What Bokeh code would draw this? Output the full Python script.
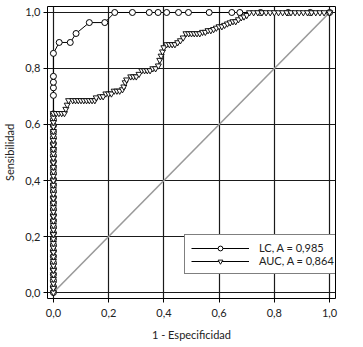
from bokeh.plotting import figure
from bokeh.models import Range1d, FixedTicker, Legend, LegendItem
from bokeh.embed import file_html
from bokeh.resources import INLINE

tick_values = [0.0, 0.2, 0.4, 0.6, 0.8, 1.0]
tick_labels = ["0,0", "0,2", "0,4", "0,6", "0,8", "1,0"]
x_title = "1 - Especificidad"
y_title = "Sensibilidad"
series_labels = ["LC, A = 0,985", "AUC, A = 0,864"]

lc_x = [0.0] * 31 + [0.0, 0.0, 0.0, 0.0, 0.0,
        0.021, 0.061, 0.082, 0.130, 0.186, 0.222, 0.286, 0.347, 0.379,
        0.410, 0.453, 0.489, 0.564, 0.646, 0.675, 0.750, 0.850, 0.930, 1.0]
lc_y = [0.000, 0.021, 0.043, 0.064, 0.085, 0.106, 0.128, 0.149, 0.170, 0.191,
        0.213, 0.234, 0.255, 0.277, 0.298, 0.319, 0.340, 0.362, 0.383, 0.404,
        0.426, 0.447, 0.468, 0.489, 0.511, 0.532, 0.553, 0.574, 0.596, 0.617,
        0.638, 0.704, 0.731, 0.751, 0.772, 0.854,
        0.893, 0.893, 0.925, 0.964, 0.964, 1.0, 1.0, 1.0, 1.0,
        1.0, 1.0, 1.0, 1.0, 1.0, 1.0, 1.0, 1.0, 1.0, 1.0]

auc_x = [0.0] * 41 + [
    0.010, 0.020, 0.030, 0.040, 0.045, 0.050, 0.055,
    0.070, 0.080, 0.090, 0.100, 0.110, 0.120, 0.130, 0.140, 0.150,
    0.155, 0.170, 0.180, 0.190, 0.200, 0.210, 0.220, 0.230, 0.240, 0.250,
    0.255, 0.260, 0.265, 0.280, 0.290, 0.300, 0.310, 0.320, 0.330, 0.340,
    0.350, 0.360, 0.370, 0.380, 0.385, 0.390, 0.395, 0.400, 0.410, 0.420,
    0.430, 0.440, 0.450, 0.460, 0.470, 0.480, 0.490, 0.500, 0.510, 0.520,
    0.530, 0.540, 0.550, 0.560, 0.570, 0.580, 0.590, 0.600, 0.610, 0.620,
    0.630, 0.640, 0.650, 0.660, 0.670, 0.680, 0.690, 0.700, 0.710,
    0.725, 0.740, 0.755, 0.770, 0.785, 0.800, 0.815, 0.830, 0.845, 0.860,
    0.875, 0.890, 0.905, 0.920, 0.935, 0.950, 0.965, 0.980, 1.0]
auc_y = [0.000, 0.016, 0.032, 0.048, 0.064, 0.080, 0.096, 0.112, 0.128, 0.144,
         0.160, 0.176, 0.192, 0.208, 0.224, 0.240, 0.256, 0.272, 0.288, 0.304,
         0.320, 0.336, 0.352, 0.368, 0.384, 0.400, 0.416, 0.432, 0.448, 0.464,
         0.480, 0.496, 0.512, 0.528, 0.544, 0.560, 0.576, 0.592, 0.608, 0.624,
         0.640,
         0.640, 0.640, 0.640, 0.640, 0.655, 0.670, 0.686,
         0.686, 0.686, 0.686, 0.686, 0.686, 0.686, 0.686, 0.686, 0.686,
         0.696, 0.700, 0.700, 0.710, 0.710, 0.710, 0.720, 0.720, 0.720, 0.725,
         0.735, 0.750, 0.760, 0.771, 0.771, 0.771, 0.780, 0.793, 0.793, 0.793,
         0.793, 0.800, 0.800, 0.810, 0.830, 0.845, 0.860, 0.875, 0.886, 0.886,
         0.886, 0.886, 0.893, 0.900, 0.910, 0.925, 0.925, 0.925, 0.925, 0.925,
         0.925, 0.930, 0.930, 0.936, 0.936, 0.940, 0.945, 0.950, 0.950, 0.955,
         0.960, 0.964, 0.968, 0.968, 0.975, 0.982, 0.985, 0.990, 1.0,
         1.0, 1.0, 1.0, 1.0, 1.0, 1.0, 1.0, 1.0, 1.0, 1.0,
         1.0, 1.0, 1.0, 1.0, 1.0, 1.0, 1.0, 1.0, 1.0]
diag_x = [0.0, 1.0]
diag_y = [0.0, 1.0]

FONT = "Lato"
TXT = "#222222"

p = figure(width=355, height=343, output_backend="svg", toolbar_location=None,
           x_range=Range1d(-0.0214, 1.0214), y_range=Range1d(-0.0214, 1.0214),
           min_border_left=42, min_border_right=20, min_border_top=6,
           min_border_bottom=45)
p.outline_line_color = "black"
p.outline_line_width = 1
p.background_fill_color = "white"
p.border_fill_color = "white"

for ax in (p.xaxis[0], p.yaxis[0]):
    ax.ticker = FixedTicker(ticks=tick_values)
    ax.major_label_overrides = dict(zip(tick_values, tick_labels))
    ax.axis_line_color = None
    ax.major_tick_line_color = "black"
    ax.major_tick_out = 4
    ax.major_tick_in = 0
    ax.minor_tick_line_color = None
    ax.major_label_text_font = FONT
    ax.major_label_text_font_size = "11px"
    ax.major_label_text_color = TXT
    ax.axis_label_text_font = FONT
    ax.axis_label_text_font_size = "11px"
    ax.axis_label_text_font_style = "normal"
    ax.axis_label_text_color = TXT

p.xaxis.axis_label = x_title
p.yaxis.axis_label = y_title
p.xaxis.major_label_standoff = 6
p.xaxis.axis_label_standoff = 8
p.yaxis.major_label_standoff = 3
p.yaxis.axis_label_standoff = 6

for g in (p.xgrid[0], p.ygrid[0]):
    g.ticker = FixedTicker(ticks=tick_values)
    g.grid_line_color = "#1a1a1a"
    g.grid_line_width = 1.2

p.line(diag_x, diag_y, line_color="#9a9a9a", line_width=1.6)

lc_line = p.line(lc_x, lc_y, line_color="black", line_width=1)
lc_pts = p.scatter(lc_x, lc_y, marker="circle", size=6, fill_color="white",
                   line_color="black", line_width=1)
auc_line = p.line(auc_x, auc_y, line_color="black", line_width=1)
auc_pts = p.scatter(auc_x, auc_y, marker="inverted_triangle", size=6,
                    fill_color="white", line_color="black", line_width=0.9)

legend = Legend(items=[LegendItem(label=series_labels[0], renderers=[lc_line, lc_pts]),
                       LegendItem(label=series_labels[1], renderers=[auc_line, auc_pts])],
                location=(137, 24))
legend.border_line_color = "black"
legend.border_line_width = 1
legend.background_fill_color = "white"
legend.background_fill_alpha = 1
legend.padding = 6
legend.margin = 0
legend.spacing = 0
legend.glyph_width = 58
legend.glyph_height = 12
legend.label_height = 12
legend.label_width = 78
legend.label_standoff = 10
legend.label_text_font = FONT
legend.label_text_font_size = "11px"
legend.label_text_color = TXT
p.add_layout(legend, "center")

open("out.html", "w").write(file_html(p, INLINE))
